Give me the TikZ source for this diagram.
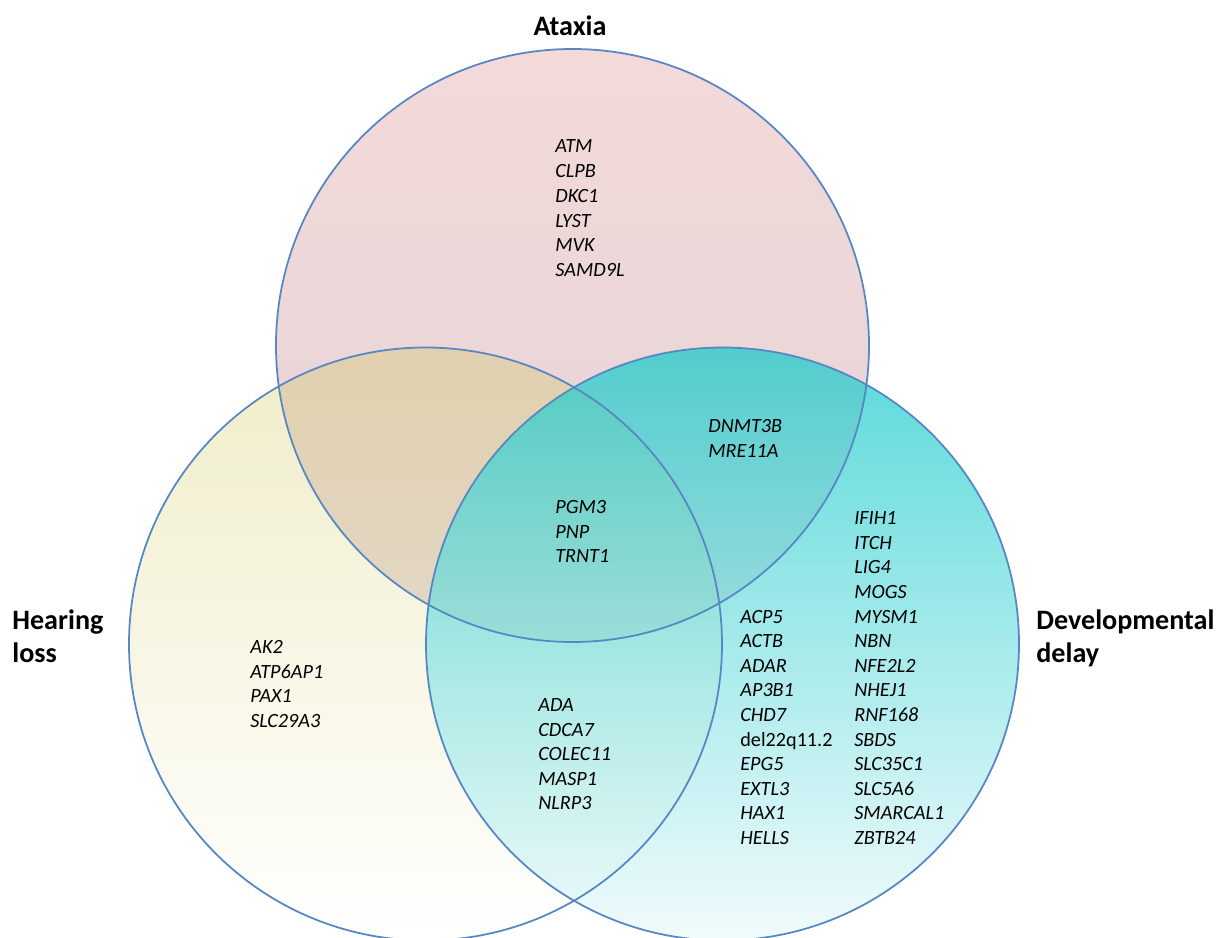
\documentclass[tikz,border=0pt]{standalone}
\usepackage{fontspec}
\setmainfont{Carlito}
\usetikzlibrary{calc}

\definecolor{vennline}{RGB}{86,135,196}
\definecolor{ataxtop}{RGB}{244,217,217}
\definecolor{ataxbot}{RGB}{226,212,215}
\definecolor{heartop}{RGB}{205,195,75}
\definecolor{devtop}{RGB}{18,201,202}
\definecolor{devmid}{RGB}{115,222,225}
\definecolor{devbot}{RGB}{236,249,251}

\begin{document}
\begin{tikzpicture}[x=0.02cm, y=-0.02cm,
  gene/.style={anchor=base west, inner sep=0pt, font=\fontsize{11.5}{13.9}\selectfont\itshape},
  title/.style={font=\fontsize{16}{18.7}\selectfont\bfseries, inner sep=0pt, align=left}]
  \useasboundingbox (0,0) rectangle (1227,937);
  \coordinate (A) at (572.5,345.5);
  \coordinate (H) at (425.5,644);
  \coordinate (D) at (722.5,644);
  \shade[top color=ataxtop, bottom color=ataxbot] (A) circle[radius=296.5];
  \shade[top color=heartop, bottom color=white, fill opacity=0.3] (H) circle[radius=296.5];
  \shade[top color=devtop, middle color=devmid, bottom color=devbot, fill opacity=0.7]
    (D) circle[radius=296.5];
  \foreach \c in {A,H,D}
    \draw[vennline, line width=1pt] (\c) circle[radius=296.5];
  % set names
  \node[title, anchor=base] (atx) at (570,35) {Ataxia};
  \node[title, anchor=west] (hl) at (12,636) {Hearing\\loss};
  \node[title, anchor=west] (dd) at (1036,638) {Developmental\\delay};
  % genes per region
  \foreach \g [count=\i from 0] in {ATM,CLPB,DKC1,LYST,MVK,SAMD9L}
    \node[gene] (atx\i) at (555,152.7+24.8*\i) {\g};
  \foreach \g [count=\i from 0] in {AK2,ATP6AP1,PAX1,SLC29A3}
    \node[gene] (hl\i) at (250,653.7+24.5*\i) {\g};
  \foreach \g [count=\i from 0] in {PGM3,PNP,TRNT1}
    \node[gene] (all\i) at (555,513.7+24.5*\i) {\g};
  \foreach \g [count=\i from 0] in {DNMT3B,MRE11A}
    \node[gene] (ad\i) at (708,432.7+24.5*\i) {\g};
  \foreach \g [count=\i from 0] in {ADA,CDCA7,COLEC11,MASP1,NLRP3}
    \node[gene] (hd\i) at (538,711.7+24.5*\i) {\g};
  \foreach \g [count=\i from 0] in {ACP5,ACTB,ADAR,AP3B1,CHD7,{\upshape del22q11.2},EPG5,EXTL3,HAX1,HELLS}
    \node[gene] (dda\i) at (740,623.1+24.6*\i) {\g};
  \foreach \g [count=\i from 0] in {IFIH1,ITCH,LIG4,MOGS,MYSM1,NBN,NFE2L2,NHEJ1,RNF168,SBDS,SLC35C1,SLC5A6,SMARCAL1,ZBTB24}
    \node[gene] (ddb\i) at (854,524.7+24.6*\i) {\g};
\end{tikzpicture}
\end{document}
